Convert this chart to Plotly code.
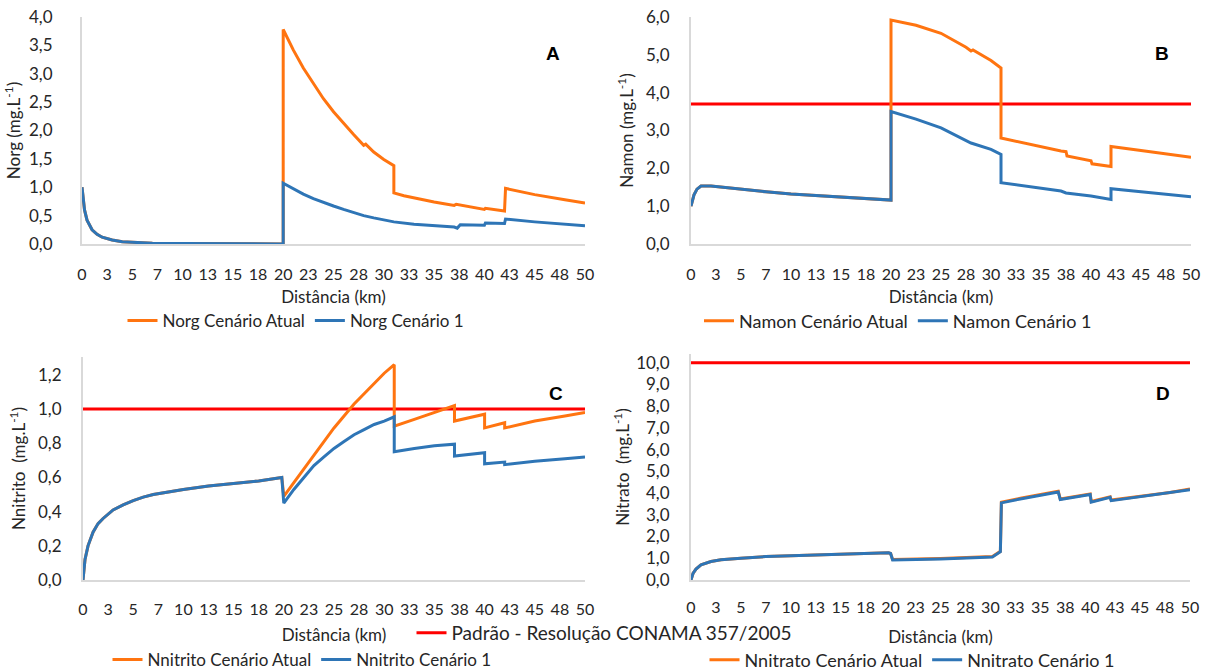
import plotly.graph_objects as go

# ---------------- data ----------------
xtick_vals = [0, 2.5, 5, 7.5, 10, 12.5, 15, 17.5, 20, 22.5, 25, 27.5, 30, 32.5, 35, 37.5, 40, 42.5, 45, 47.5, 50]
xtick_text = ["0", "3", "5", "7", "10", "13", "15", "18", "20", "23", "25", "28", "30", "33", "35", "38", "40", "43", "45", "48", "50"]

# A - Norg
norg_c1_x = [0, 0.25, 0.5, 1, 1.5, 2, 3, 4, 5, 7, 10, 15, 20, 20, 21, 22, 23, 24, 25, 26, 27, 28, 29, 30, 31, 33, 35, 37, 37.3, 37.6, 40, 40.1, 42, 42.1, 45, 48, 50]
norg_c1_y = [1.0, 0.6, 0.42, 0.25, 0.17, 0.12, 0.07, 0.04, 0.03, 0.015, 0.01, 0.005, 0.0, 1.07, 0.97, 0.88, 0.8, 0.73, 0.67, 0.61, 0.55, 0.5, 0.46, 0.42, 0.39, 0.35, 0.32, 0.30, 0.28, 0.34, 0.33, 0.37, 0.36, 0.44, 0.39, 0.35, 0.32]
norg_at_x = [0, 0.25, 0.5, 1, 1.5, 2, 3, 4, 5, 7, 10, 15, 20, 20, 21, 22, 23, 24, 25, 26, 27, 28, 28.2, 29, 30, 31, 31, 32, 33, 34, 35, 36, 37, 37.2, 40, 40.1, 42, 42.1, 45, 48, 50]
norg_at_y = [1.0, 0.6, 0.42, 0.25, 0.17, 0.12, 0.07, 0.04, 0.03, 0.015, 0.01, 0.005, 0.0, 3.78, 3.42, 3.1, 2.82, 2.56, 2.33, 2.12, 1.93, 1.74, 1.76, 1.62, 1.49, 1.38, 0.9, 0.85, 0.81, 0.77, 0.74, 0.71, 0.68, 0.70, 0.61, 0.63, 0.58, 0.98, 0.87, 0.78, 0.72]

# B - Namon
namon_c1_x = [0, 0.3, 0.6, 1, 2, 3, 5, 7.5, 10, 12.5, 15, 17.5, 20, 20, 22.5, 25, 27.5, 28, 30, 31, 31, 33, 35, 37, 37.5, 40, 42, 42, 45, 48, 50]
namon_c1_y = [1.0, 1.3, 1.45, 1.53, 1.53, 1.5, 1.45, 1.38, 1.32, 1.28, 1.24, 1.2, 1.16, 3.5, 3.3, 3.07, 2.75, 2.67, 2.5, 2.37, 1.62, 1.55, 1.48, 1.4, 1.35, 1.27, 1.18, 1.46, 1.38, 1.3, 1.25]
namon_at_x = [0, 0.3, 0.6, 1, 2, 3, 5, 7.5, 10, 12.5, 15, 17.5, 20, 20, 22.5, 25, 27.5, 28, 28.2, 30, 31, 31, 33, 35, 37, 37.5, 37.6, 40, 40.1, 42, 42, 45, 48, 50]
namon_at_y = [1.0, 1.3, 1.45, 1.53, 1.53, 1.5, 1.45, 1.38, 1.32, 1.28, 1.24, 1.2, 1.16, 5.92, 5.78, 5.57, 5.2, 5.1, 5.13, 4.85, 4.65, 2.8, 2.68, 2.56, 2.46, 2.44, 2.33, 2.2, 2.12, 2.05, 2.58, 2.47, 2.36, 2.29]
namon_limit = 3.7

# C - Nnitrito
nitri_c1_x = [0, 0.2, 0.5, 1, 1.5, 2, 3, 4, 5, 6, 7, 8, 10, 12.5, 15, 17.5, 19.8, 20, 21, 22, 23, 24, 25, 26, 27, 28, 29, 30, 31, 31, 33, 35, 37, 37, 40, 40, 42, 42, 45, 48, 50]
nitri_c1_y = [0.0, 0.12, 0.2, 0.28, 0.33, 0.36, 0.41, 0.44, 0.465, 0.485, 0.5, 0.51, 0.53, 0.55, 0.565, 0.58, 0.6, 0.45, 0.53, 0.6, 0.67, 0.72, 0.77, 0.81, 0.85, 0.88, 0.91, 0.93, 0.955, 0.75, 0.77, 0.785, 0.795, 0.725, 0.745, 0.68, 0.69, 0.675, 0.695, 0.71, 0.72]
nitri_at_x = [0, 0.2, 0.5, 1, 1.5, 2, 3, 4, 5, 6, 7, 8, 10, 12.5, 15, 17.5, 19.8, 20, 21, 22, 23, 24, 25, 26, 27, 28, 29, 30, 31, 31, 33, 35, 37, 37, 40, 40, 42, 42, 45, 48, 50]
nitri_at_y = [0.0, 0.12, 0.2, 0.28, 0.33, 0.36, 0.41, 0.44, 0.465, 0.485, 0.5, 0.51, 0.53, 0.55, 0.565, 0.58, 0.6, 0.49, 0.57, 0.65, 0.73, 0.81, 0.89, 0.96, 1.03, 1.09, 1.15, 1.21, 1.26, 0.9, 0.94, 0.98, 1.02, 0.93, 0.97, 0.89, 0.92, 0.89, 0.93, 0.96, 0.98]
nitri_limit = 1.0

# D - Nitrato
nitra_c1_x = [0, 0.2, 0.5, 1, 2, 3, 5, 7.5, 10, 15, 19.8, 20, 20.2, 25, 30, 30.2, 31, 31.1, 33, 35, 36.8, 37, 40, 40.1, 42, 42.1, 45, 48, 50]
nitra_c1_y = [0.0, 0.3, 0.5, 0.7, 0.85, 0.93, 1.0, 1.08, 1.12, 1.2, 1.25, 1.22, 0.92, 0.97, 1.03, 1.06, 1.3, 3.55, 3.73, 3.9, 4.05, 3.7, 3.93, 3.58, 3.8, 3.65, 3.83, 4.0, 4.15]
nitra_at_x = [0, 0.2, 0.5, 1, 2, 3, 5, 7.5, 10, 15, 19.8, 20, 20.2, 25, 30, 30.2, 31, 31.1, 33, 35, 36.8, 37, 40, 40.1, 42, 42.1, 45, 48, 50]
nitra_at_y = [0.0, 0.3, 0.5, 0.7, 0.85, 0.93, 1.0, 1.08, 1.12, 1.2, 1.25, 1.22, 0.94, 0.99, 1.05, 1.08, 1.32, 3.58, 3.76, 3.93, 4.08, 3.73, 3.96, 3.61, 3.83, 3.68, 3.86, 4.03, 4.19]
nitra_limit = 10.0

limit_x = [0, 50]

# ---------------- style ----------------
ORANGE = "#FF7410"
BLUE = "#2E75B6"
RED = "#FF0000"
FONT = "Lato"
TXT = "#262626"
W, H = 1211, 672

fig = go.Figure()

def add_pair(xa, ya, xb, yb, name_a, name_b, xref, yref, legend):
    fig.add_trace(go.Scatter(x=xa, y=ya, mode="lines", name=name_a, line=dict(color=ORANGE, width=3),
                             xaxis=xref, yaxis=yref, legend=legend))
    fig.add_trace(go.Scatter(x=xb, y=yb, mode="lines", name=name_b, line=dict(color=BLUE, width=3),
                             xaxis=xref, yaxis=yref, legend=legend))

def add_limit(val, xref, yref, show):
    fig.add_trace(go.Scatter(x=limit_x, y=[val, val], mode="lines", name="Padrão - Resolução CONAMA 357/2005",
                             line=dict(color=RED, width=3), xaxis=xref, yaxis=yref,
                             legend="legend3", showlegend=show))

add_pair(norg_at_x, norg_at_y, norg_c1_x, norg_c1_y, "Norg Cenário Atual", "Norg Cenário 1", "x", "y", "legend")
add_limit(namon_limit, "x2", "y2", False)
add_pair(namon_at_x, namon_at_y, namon_c1_x, namon_c1_y, "Namon Cenário Atual", "Namon Cenário 1", "x2", "y2", "legend2")
add_limit(nitri_limit, "x3", "y3", True)
add_pair(nitri_at_x, nitri_at_y, nitri_c1_x, nitri_c1_y, "Nnitrito Cenário Atual", "Nnitrito Cenário 1", "x3", "y3", "legend4")
add_limit(nitra_limit, "x4", "y4", False)
add_pair(nitra_at_x, nitra_at_y, nitra_c1_x, nitra_c1_y, "Nnitrato Cenário Atual", "Nnitrato Cenário 1", "x4", "y4", "legend5")

def px_x(p):
    return p / W

def px_y(p):
    return 1 - p / H

def xaxis(dom, anchor, label_off, title_off):
    return dict(domain=[px_x(dom[0]), px_x(dom[1])], anchor=anchor, range=[0, 50],
                tickmode="array", tickvals=xtick_vals, ticktext=xtick_text,
                showgrid=False, zeroline=False, showline=True, linecolor="#D9D9D9", linewidth=2,
                ticks="", ticklabelstandoff=label_off,
                tickfont=dict(family=FONT, size=16, color=TXT),
                title=dict(text="Distância (km)", font=dict(family=FONT, size=17, color=TXT), standoff=title_off))

def yaxis(dom, anchor, rng, dtick, title, label_off, title_off):
    return dict(domain=[px_y(dom[1]), px_y(dom[0])], anchor=anchor, range=rng, dtick=dtick, tick0=0,
                tickformat=".1f", showgrid=False, zeroline=False, showline=True, linecolor="#D9D9D9", linewidth=2,
                ticks="", ticklabelstandoff=label_off,
                tickfont=dict(family=FONT, size=17, color=TXT),
                title=dict(text=title, font=dict(family=FONT, size=17, color=TXT), standoff=title_off))

def leg(xc, yc, size):
    return dict(orientation="h", font=dict(family=FONT, size=size, color=TXT), bgcolor="rgba(0,0,0,0)",
                itemwidth=30, xanchor="center", yanchor="middle", tracegroupgap=0,
                x=px_x(xc), y=px_y(yc))

fig.update_layout(
    width=W, height=H, margin=dict(l=0, r=0, t=0, b=0, autoexpand=False),
    paper_bgcolor="white", plot_bgcolor="white", separators=",.",
    font=dict(family=FONT, color=TXT),
    xaxis=xaxis((82, 585), "y", 15, 9),
    yaxis=yaxis((17, 244), "x", [0, 4.0], 0.5, "Norg (mg.L<sup>-1</sup>)", 24, 4),
    xaxis2=xaxis((691, 1191), "y2", 15, 9),
    yaxis2=yaxis((17, 244), "x2", [0, 6.0], 1.0, "Namon (mg.L<sup>-1</sup>)", 16, 8),
    xaxis3=xaxis((83, 585), "y3", 14, 12),
    yaxis3=yaxis((357, 580), "x3", [0, 1.305], 0.2, "Nnitrito \u00a0(mg.L<sup>-1</sup>)", 16, 8),
    xaxis4=xaxis((691, 1190), "y4", 12, 16),
    yaxis4=yaxis((354, 580), "x4", [0, 10.4], 1.0, "Nitrato \u00a0(mg.L<sup>-1</sup>)", 16, 2),
    legend=leg(296, 321, 17),
    legend2=leg(898, 321, 18),
    legend3=leg(604, 633, 19),
    legend4=leg(302, 660, 17),
    legend5=leg(912, 660, 18),
    showlegend=True,
)

for label, xp, yp in [("A", 553, 53), ("B", 1162, 53), ("C", 556, 393), ("D", 1163, 393)]:
    fig.add_annotation(text="<b>%s</b>" % label, x=px_x(xp), y=px_y(yp), xref="paper", yref="paper",
                       showarrow=False, xanchor="center", yanchor="middle",
                       font=dict(family="Liberation Sans", size=19, color="black"))

fig.write_html("out.html")
